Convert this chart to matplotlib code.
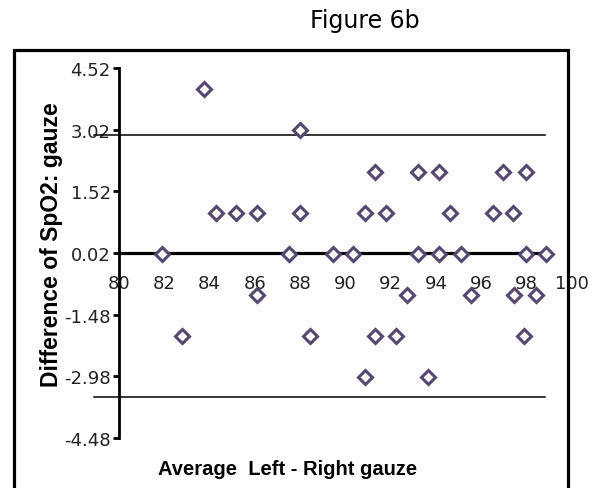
import numpy as np
import matplotlib
matplotlib.use("Agg")
import matplotlib.pyplot as plt
from matplotlib.patches import Rectangle

# Bland-Altman style data
avg_lr = [81.9, 83.75, 84.3, 85.15, 86.1, 87.5, 88.0, 88.0,
          89.45, 90.35, 93.2, 94.15, 95.1, 97.95, 98.85,
          91.3, 93.2, 94.15, 96.95, 97.95,
          90.85, 91.8, 94.6, 96.5, 97.4,
          82.8, 86.1, 92.7, 95.55, 97.45, 98.4,
          88.45, 91.3, 92.25, 97.9,
          90.85, 93.65]
diff_lr = [0, 4, 1, 1, 1, 0, 1, 3,
           0, 0, 0, 0, 0, 0, 0,
           2, 2, 2, 2, 2,
           1, 1, 1, 1, 1,
           -2, -1, -1, -1, -1, -1,
           -2, -2, -2, -2,
           -3, -3]

mean_line = 0.02
upper_loa = 2.88
lower_loa = -3.48

yticks = [4.52, 3.02, 1.52, 0.02, -1.48, -2.98, -4.48]
xticks = [80, 82, 84, 86, 88, 90, 92, 94, 96, 98, 100]

W, H = 598, 489
fig = plt.figure(figsize=(W / 100, H / 100), dpi=100)
ax = fig.add_axes([119 / W, 1 - 439 / H, (572 - 119) / W, (439 - 69) / H])
ax.patch.set_alpha(0)

purple = "#554870"

ax.plot(avg_lr, diff_lr, linestyle="none", marker="D", markersize=7,
        markerfacecolor="white", markeredgecolor=purple, markeredgewidth=2.2,
        zorder=4)

# mean and limits of agreement
ax.plot([80, 98.9], [mean_line, mean_line], color="black", lw=2.3, zorder=3,
        clip_on=False)
ax.plot([78.9, 98.8], [upper_loa, upper_loa], color="black", lw=1.1,
        clip_on=False)
ax.plot([78.9, 98.8], [lower_loa, lower_loa], color="black", lw=1.1,
        clip_on=False)

ax.set_xlim(80, 100)
ax.set_ylim(-4.48, 4.52)

for s in ["top", "right"]:
    ax.spines[s].set_visible(False)
ax.spines["left"].set_linewidth(2.0)
ax.spines["bottom"].set_position(("data", mean_line))
ax.spines["bottom"].set_visible(False)

ax.set_yticks(yticks)
ax.set_yticklabels(["%.2f" % v for v in yticks])
ax.set_xticks(xticks)
ax.set_xticklabels([str(v) for v in xticks])
ax.tick_params(axis="y", length=4, width=2, pad=2, labelsize=13)
ax.tick_params(axis="x", length=0, pad=15, labelsize=13)
for lab in ax.get_xticklabels() + ax.get_yticklabels():
    lab.set_fontfamily("DejaVu Sans")
    lab.set_color("#222222")

fig.text(52 / W, 1 - 245 / H, "Difference of SpO2: gauze", rotation=90,
         ha="center", va="center", fontsize=16.5, fontweight="bold",
         family="Liberation Sans")
fig.text(288 / W, 1 - 470 / H, "Average  Left - Right gauze",
         ha="center", va="center", fontsize=14.5, fontweight="bold",
         family="Liberation Sans")
fig.text(365 / W, 1 - 21 / H, "Figure 6b", ha="center", va="center",
         fontsize=17, family="DejaVu Sans")

frame = Rectangle((14 / W, -0.05), (568 - 14) / W, (1 - 51 / H) + 0.05,
                  transform=fig.transFigure, fill=False, lw=2.3,
                  edgecolor="black", clip_on=False)
fig.patches.append(frame)

fig.savefig("out.png", dpi=100)
